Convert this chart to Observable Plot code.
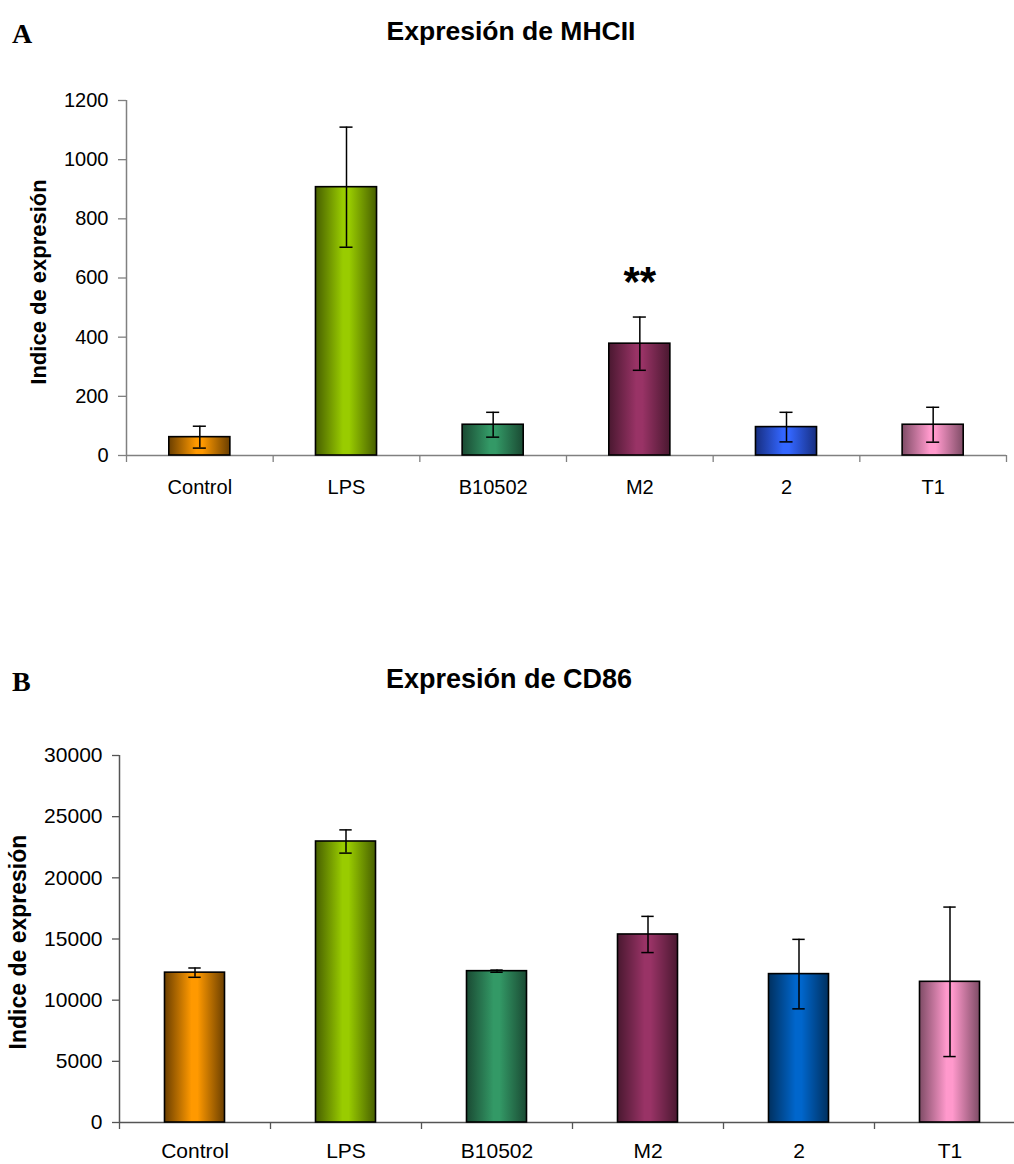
<!DOCTYPE html>
<html><head><meta charset="utf-8">
<script src="https://cdn.jsdelivr.net/npm/d3@7"></script>
<script src="https://cdn.jsdelivr.net/npm/@observablehq/plot@0.6"></script>
<style>
body{margin:0;background:#fff;}
#page{position:relative;width:1014px;height:1164px;overflow:hidden;background:#fff;font-family:"Liberation Sans",Arial,sans-serif;color:#000;}
.abs{position:absolute;white-space:nowrap;line-height:1;}
.title{font-weight:bold;transform:translateX(-50%);}
.panel{font-family:"Liberation Serif","Times New Roman",serif;font-weight:bold;}
.ylab{font-weight:bold;transform:translate(-50%,-50%) rotate(-90deg);}
.chart{position:absolute;left:0;}
</style></head><body><div id="page">
<div class="abs panel" style="left:12px;top:19.5px;font-size:28px">A</div>
<div class="abs title" style="left:511px;top:18px;font-size:26.5px">Expresión de MHCII</div>
<div class="abs ylab" style="left:39.4px;top:282px;font-size:22px">Indice de expresión</div>
<div class="abs panel" style="left:12px;top:667.5px;font-size:28px">B</div>
<div class="abs title" style="left:509px;top:666.4px;font-size:27px">Expresión de CD86</div>
<div class="abs ylab" style="left:17.7px;top:942px;font-size:23px">Indice de expresión</div>
<div id="chartA" class="chart" style="top:60px"></div>
<div id="chartB" class="chart" style="top:720px"></div>
</div>
<script>
const categories = ["Control", "LPS", "B10502", "M2", "2", "T1"];

const mhciiMean = [62, 907, 104, 378, 96, 104];
const mhciiErr = [37, 203, 42, 90, 50, 59];
const mhciiSignif = ["", "", "", "**", "", ""];
const mhciiTicks = [0, 200, 400, 600, 800, 1000, 1200];
const mhciiLight = ["#FF9900", "#99CC00", "#339966", "#993366", "#3366FF", "#FF99CC"];
const mhciiDark = ["#6B3F00", "#475F00", "#1A4A33", "#4A1830", "#172E80", "#7F4C66"];

const cd86Mean = [12250, 22970, 12370, 15370, 12130, 11500];
const cd86Err = [380, 950, 90, 1480, 2840, 6110];
const cd86Ticks = [0, 5000, 10000, 15000, 20000, 25000, 30000];
const cd86Light = ["#FF9900", "#99CC00", "#339966", "#993366", "#0066CC", "#FF99CC"];
const cd86Dark = ["#6B3F00", "#475F00", "#1A4A33", "#4A1830", "#00305F", "#7F4C66"];

const boundaries = [0, 1, 2, 3, 4, 5, 6];
const centers = [0.5, 1.5, 2.5, 3.5, 4.5, 5.5];

function chart(o) {
  const rows = categories.map((c, i) => ({
    cat: c, i, i1: i + 1, mid: i + 0.5,
    mean: o.mean[i], lo: o.mean[i] - o.err[i], hi: o.mean[i] + o.err[i],
    grad: `url(#${o.id}${i})`, sig: o.sig ? o.sig[i] : ""
  }));
  const yMax = o.ticks[o.ticks.length - 1];
  const svg = Plot.plot({
    width: 1014, height: o.height,
    marginTop: o.mt, marginBottom: o.mb, marginLeft: o.range[0], marginRight: 0,
    x: {domain: [0, 6], range: o.range},
    y: {domain: [0, yMax]},
    color: {type: "identity"},
    style: {fontFamily: '"Liberation Sans", Arial, sans-serif', fontSize: o.fs + "px", color: "#000", background: "transparent"},
    marks: [
      Plot.ruleY([0], {x1: 0, x2: 6, stroke: o.axisColor, strokeWidth: 1.5}),
      Plot.ruleX([0], {y1: 0, y2: yMax, stroke: o.axisColor, strokeWidth: 1.5}),
      Plot.axisY({ticks: o.ticks, tickSize: o.ts, tickPadding: 10, stroke: o.axisColor, strokeWidth: 1.3, tickFormat: d => String(d), label: null}),
      Plot.axisX({ticks: boundaries, tickSize: 7, tickFormat: () => "", stroke: o.axisColor, strokeWidth: 1.3, label: null}),
      Plot.axisX({ticks: centers, tickSize: 0, tickPadding: o.lp, tickFormat: d => categories[Math.floor(d)], label: null}),
      Plot.rectY(rows, {x1: "i", x2: "i1", y1: 0, y2: "mean", fill: "grad", stroke: "#000", strokeWidth: 1.6, insetLeft: o.bi, insetRight: o.bi}),
      Plot.ruleX(rows, {x: "mid", y1: "lo", y2: "hi", stroke: "#000", strokeWidth: 1.5}),
      Plot.ruleY(rows, {x1: "i", x2: "i1", y: "hi", stroke: "#000", strokeWidth: 1.5, insetLeft: o.ci, insetRight: o.ci}),
      Plot.ruleY(rows, {x1: "i", x2: "i1", y: "lo", stroke: "#000", strokeWidth: 1.5, insetLeft: o.ci, insetRight: o.ci}),
      Plot.text(rows.filter(d => d.sig), {x: "mid", y: "hi", text: "sig", dy: -35, fontSize: 42, fontWeight: "bold", fill: "#000"})
    ]
  });
  const defs = d3.select(svg).insert("defs", ":first-child");
  categories.forEach((c, i) => {
    const g = defs.append("linearGradient").attr("id", o.id + i)
      .attr("x1", "0").attr("x2", "1").attr("y1", "0").attr("y2", "0");
    g.append("stop").attr("offset", "0").attr("stop-color", o.dark[i]);
    g.append("stop").attr("offset", "0.45").attr("stop-color", o.light[i]);
    g.append("stop").attr("offset", "0.55").attr("stop-color", o.light[i]);
    g.append("stop").attr("offset", "1").attr("stop-color", o.dark[i]);
  });
  return svg;
}

document.getElementById("chartA").appendChild(chart({
  id: "gA", mean: mhciiMean, err: mhciiErr, sig: mhciiSignif, ticks: mhciiTicks,
  light: mhciiLight, dark: mhciiDark,
  height: 460, mt: 40, mb: 65, range: [126, 1006], fs: 20, ts: 8, lp: 24,
  bi: 42.8, ci: 66.8, axisColor: "#808080"
}));
document.getElementById("chartB").appendChild(chart({
  id: "gB", mean: cd86Mean, err: cd86Err, ticks: cd86Ticks,
  light: cd86Light, dark: cd86Dark,
  height: 444, mt: 35, mb: 42, range: [119, 1025], fs: 21, ts: 7, lp: 21,
  bi: 45.5, ci: 69.3, axisColor: "#555"
}));
</script>
</body></html>
